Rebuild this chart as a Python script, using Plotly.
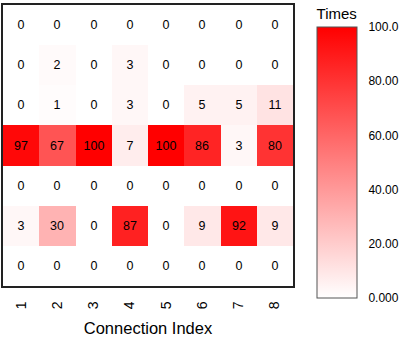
import plotly.graph_objects as go

columns = ["1", "2", "3", "4", "5", "6", "7", "8"]
rows = ["r1", "r2", "r3", "r4", "r5", "r6", "r7"]
times = [
    [0, 0, 0, 0, 0, 0, 0, 0],
    [0, 2, 0, 3, 0, 0, 0, 0],
    [0, 1, 0, 3, 0, 5, 5, 11],
    [97, 67, 100, 7, 100, 86, 3, 80],
    [0, 0, 0, 0, 0, 0, 0, 0],
    [3, 30, 0, 87, 0, 9, 92, 9],
    [0, 0, 0, 0, 0, 0, 0, 0],
]
cbar_vals = [0, 20, 40, 60, 80, 100]
cbar_text = ["0.000", "20.00", "40.00", "60.00", "80.00", "100.0"]

font = "Liberation Sans, Arial, sans-serif"

fig = go.Figure(go.Heatmap(
    z=times, x=columns, y=rows,
    colorscale=[[0, "#ffffff"], [1, "#ff0000"]],
    zmin=0, zmax=100,
    texttemplate="%{z}",
    textfont=dict(family=font, size=12.5, color="black"),
    hoverinfo="z",
    colorbar=dict(
        title=dict(text="Times", side="top", font=dict(family=font, size=15, color="black")),
        x=1.083, xanchor="left", xref="paper", xpad=0, ypad=0,
        y=-0.0427, yanchor="bottom",
        lenmode="pixels", len=293,
        thicknessmode="pixels", thickness=40,
        outlinecolor="#555555", outlinewidth=1,
        tickvals=cbar_vals, ticktext=cbar_text,
        ticks="outside", ticklen=9, tickcolor="rgba(0,0,0,0)",
        tickfont=dict(family=font, size=12, color="black"),
    ),
))

fig.update_layout(
    width=407, height=341,
    margin=dict(l=3, r=114, t=5, b=55, autoexpand=False),
    paper_bgcolor="white", plot_bgcolor="white",
    font=dict(family=font, color="black"),
)
fig.update_xaxes(
    tickangle=-90, tickfont=dict(family=font, size=14, color="black"),
    ticks="", ticklabelstandoff=8,
    showline=True, mirror=True, linecolor="#222222", linewidth=1.5,
    title=dict(text="Connection Index", font=dict(family=font, size=16.5, color="black"), standoff=14),
    showgrid=False, zeroline=False,
)
fig.update_yaxes(
    autorange="reversed", showticklabels=False, ticks="",
    showline=True, mirror=True, linecolor="#222222", linewidth=1.5,
    showgrid=False, zeroline=False,
)

fig.write_html("out.html", config={"displayModeBar": False},
               post_script="document.body.style.margin='0';")
